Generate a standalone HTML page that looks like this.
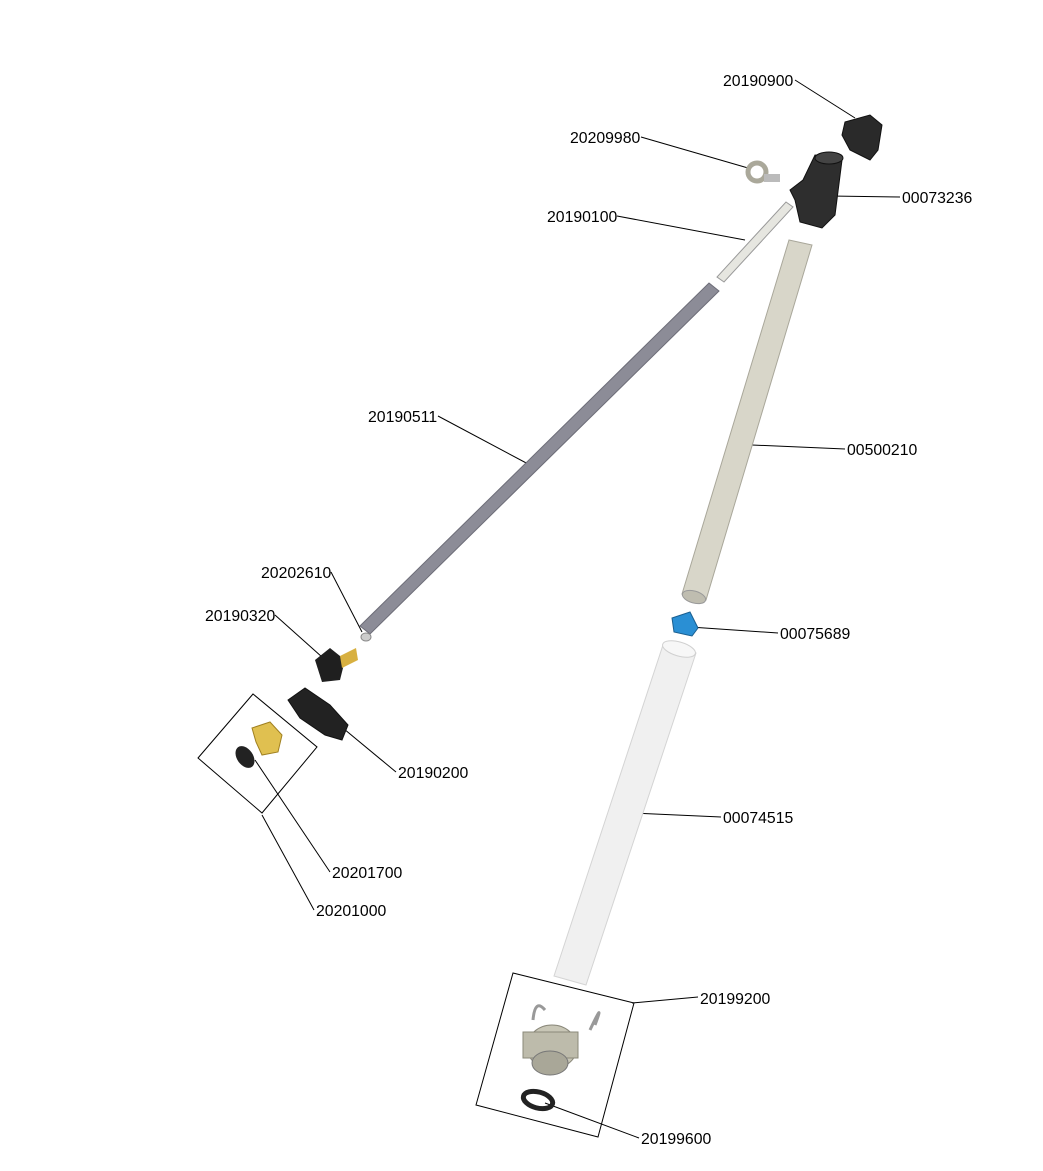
<!DOCTYPE html>
<html><head><meta charset="utf-8"><style>
html,body{margin:0;padding:0;background:#fff;}
svg{display:block;}
text{font-family:"Liberation Sans",sans-serif;font-size:15.8px;fill:#000;}
</style></head><body>
<svg width="1043" height="1171" viewBox="0 0 1043 1171" xmlns="http://www.w3.org/2000/svg">
<g stroke="#000" stroke-width="1" fill="none">
<line x1="795" y1="80" x2="855" y2="118"/>
<line x1="641" y1="137" x2="748" y2="168"/>
<line x1="900" y1="197" x2="830" y2="196"/>
<line x1="617" y1="216" x2="745" y2="240"/>
<line x1="438" y1="416" x2="530" y2="465"/>
<line x1="845" y1="449" x2="752" y2="445"/>
<line x1="331" y1="572" x2="362" y2="632"/>
<line x1="275" y1="615" x2="322" y2="657"/>
<line x1="778" y1="633" x2="690" y2="627"/>
<line x1="396" y1="772" x2="338" y2="724"/>
<line x1="721" y1="817" x2="632" y2="813"/>
<line x1="330" y1="872" x2="255" y2="760"/>
<line x1="314" y1="910" x2="262" y2="815"/>
<line x1="698" y1="997" x2="632" y2="1003"/>
<line x1="639" y1="1138" x2="545" y2="1103"/>
<polygon points="198,758 253,694 317,747 262,813"/>
<polygon points="513,973 634,1003 598,1137 476,1105"/>
</g>
<polygon points="709,283 719,291 370,634 360,626" fill="#8c8c97" stroke="#6d6d78" stroke-width="1"/>
<polygon points="786,202 793,207 724,282 717,277" fill="#e6e6e0" stroke="#999" stroke-width="1"/>
<polygon points="789,240 812,245 706,600 682,594" fill="#d8d6c9" stroke="#a9a79a" stroke-width="1"/>
<ellipse cx="694" cy="597" rx="12" ry="6" fill="#bfbdb0" stroke="#999" transform="rotate(16 694 597)"/>
<polygon points="663,645 696,653 586,985 554,976" fill="#f0f0f0" stroke="#d4d4d4" stroke-width="1"/>
<ellipse cx="679" cy="649" rx="17" ry="7" fill="#f7f7f7" stroke="#d0d0d0" transform="rotate(16 679 649)"/>
<polygon points="672,618 690,612 698,628 692,636 674,632" fill="#2a8fd4" stroke="#1a5f90"/>
<polygon points="815,155 842,160 835,215 822,228 800,222 795,200 790,190 803,180" fill="#2e2e2e" stroke="#111"/>
<ellipse cx="829" cy="158" rx="14" ry="6" fill="#444" stroke="#111"/>
<polygon points="845,122 870,115 882,125 878,150 870,160 850,150 842,135" fill="#2a2a2a" stroke="#111"/>
<circle cx="757" cy="172" r="9" fill="none" stroke="#aaa89a" stroke-width="5"/>
<rect x="764" y="174" width="16" height="8" fill="#bbb"/>
<ellipse cx="366" cy="637" rx="5" ry="4" fill="#ccc" stroke="#888"/>
<polygon points="315,660 330,648 345,660 340,680 322,682" fill="#1f1f1f"/>
<polygon points="340,656 356,648 358,660 342,668" fill="#d8b040"/>
<polygon points="288,700 305,688 330,705 348,725 342,740 325,735 300,718" fill="#222" stroke="#111"/>
<polygon points="252,728 270,722 282,735 278,752 262,755 256,742" fill="#e0c050" stroke="#a08020"/>
<ellipse cx="245" cy="757" rx="8" ry="12" fill="#222" transform="rotate(-35 245 757)"/>
<ellipse cx="552" cy="1047" rx="25" ry="22" fill="#c8c6b6" stroke="#8a887a"/>
<rect x="523" y="1032" width="55" height="26" fill="#bdbbab" stroke="#8a887a"/>
<ellipse cx="550" cy="1063" rx="18" ry="12" fill="#a9a798" stroke="#777"/>
<path d="M533 1020 Q535 998 545 1010" stroke="#999" fill="none" stroke-width="3"/>
<path d="M590 1030 Q605 998 595 1025" stroke="#999" fill="none" stroke-width="3"/>
<ellipse cx="538" cy="1100" rx="15" ry="8" fill="none" stroke="#222" stroke-width="5" transform="rotate(15 538 1100)"/>
<text x="723" y="86">20190900</text>
<text x="570" y="143">20209980</text>
<text x="902" y="203">00073236</text>
<text x="547" y="222">20190100</text>
<text x="368" y="422">20190511</text>
<text x="847" y="455">00500210</text>
<text x="261" y="578">20202610</text>
<text x="205" y="621">20190320</text>
<text x="780" y="639">00075689</text>
<text x="398" y="778">20190200</text>
<text x="723" y="823">00074515</text>
<text x="332" y="878">20201700</text>
<text x="316" y="916">20201000</text>
<text x="700" y="1004">20199200</text>
<text x="641" y="1144">20199600</text>
</svg>
</body></html>
